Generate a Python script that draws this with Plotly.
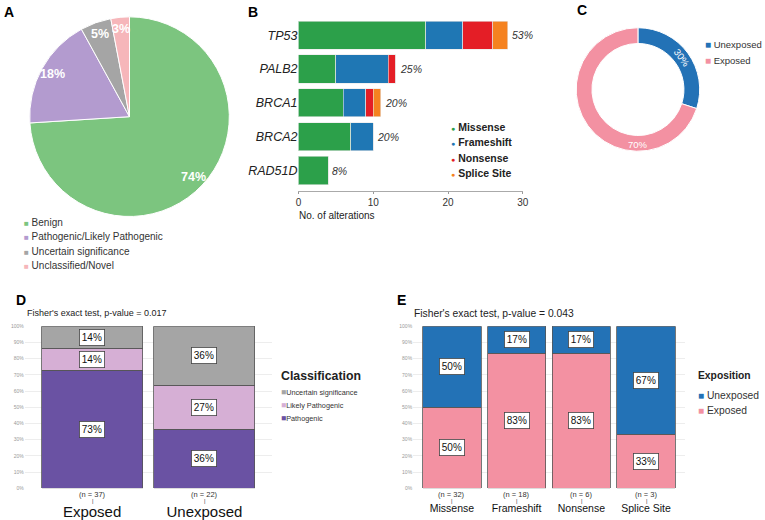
import math
import plotly.graph_objects as go

W, H = 765, 520
FONT = "Liberation Sans, Arial, sans-serif"

# ---------------- data ----------------
# Panel A
a_labels = ["Benign", "Pathogenic/Likely Pathogenic", "Uncertain significance", "Unclassified/Novel"]
a_values = [74, 18, 5, 3]
a_colors = ["#7cc57f", "#b39bcf", "#a5a5a5", "#f6b6ba"]

# Panel B
b_genes = ["TP53", "PALB2", "BRCA1", "BRCA2", "RAD51D"]
b_types = ["Missense", "Frameshift", "Nonsense", "Splice Site"]
b_missense = [17, 5, 6, 7, 4]
b_frameshift = [5, 7, 3, 3, 0]
b_nonsense = [4, 1, 1, 0, 0]
b_splice = [2, 0, 1, 0, 0]
b_pct = ["53%", "25%", "20%", "20%", "8%"]
b_colors = ["#2ca04a", "#1f77b4", "#e41e26", "#f58220"]

# Panel C
c_labels = ["Unexposed", "Exposed"]
c_values = [30, 70]
c_colors = ["#2372b6", "#f391a2"]

# Panel D
d_groups = ["Exposed", "Unexposed"]
d_n = [37, 22]
d_classes = ["Pathogenic", "Likely Pathogenic", "Uncertain significance"]
d_pathogenic = [27, 8]
d_likely = [5, 6]
d_uncertain = [5, 8]
d_colors = ["#6a52a3", "#d6afd5", "#a5a5a5"]

# Panel E
e_types = ["Missense", "Frameshift", "Nonsense", "Splice Site"]
e_n = [32, 18, 6, 3]
e_exposed = [16, 15, 5, 1]
e_unexposed = [16, 3, 1, 2]
e_colors = ["#f391a2", "#2372b6"]  # Exposed, Unexposed


def px(x):
    return x / W


def py(y):
    return 1 - y / H


fig = go.Figure()
ann = []


def add_ann(**kw):
    kw.setdefault("showarrow", False)
    kw.setdefault("xanchor", "center")
    kw.setdefault("yanchor", "middle")
    kw.setdefault("xref", "paper")
    kw.setdefault("yref", "paper")
    ann.append(kw)


# ---------------- Panel A: pie ----------------
A_CX, A_CY, A_R = 128, 115, 101
fig.add_trace(go.Pie(
    labels=a_labels, values=a_values, sort=False, direction="clockwise", rotation=0,
    marker=dict(colors=a_colors, line=dict(color="white", width=1)),
    textinfo="none", showlegend=False,
    domain=dict(x=[px(A_CX - A_R), px(A_CX + A_R)], y=[py(A_CY + A_R), py(A_CY - A_R)]),
))
tot = sum(a_values)
cum = 0
for v in a_values:
    mid = (cum + v / 2) / tot
    cum += v
    th = 2 * math.pi * mid
    r = 0.88 * A_R
    x = A_CX + r * math.sin(th)
    y = A_CY - r * math.cos(th)
    add_ann(x=px(x), y=py(y), text="<b>%d%%</b>" % round(100 * v / tot),
            font=dict(size=12.5, color="white", family=FONT))
for i, (lab, col) in enumerate(zip(a_labels, a_colors)):
    yy = 222 + i * 14.6
    add_ann(x=px(19), y=py(yy), xanchor="left",
            text="<span style='color:%s;font-size:8px'>■</span> %s" % (col, lab),
            font=dict(size=10, color="#333333", family=FONT))

# ---------------- Panel B: stacked horizontal bars ----------------
for name, vals, col in zip(b_types, [b_missense, b_frameshift, b_nonsense, b_splice], b_colors):
    fig.add_trace(go.Bar(
        y=b_genes, x=vals, name=name, orientation="h", width=0.83,
        marker=dict(color=col, line=dict(color="#e8e8e8", width=0.6)),
        xaxis="x", yaxis="y", showlegend=False,
    ))
b_tot = [a + b + c + d for a, b, c, d in zip(b_missense, b_frameshift, b_nonsense, b_splice)]
for g, t, p in zip(b_genes, b_tot, b_pct):
    add_ann(x=t, y=g, xref="x", yref="y", xanchor="left", xshift=2,
            text="<i>%s</i>" % p, font=dict(size=10.5, color="#333333", family=FONT))
add_ann(x=px(298), y=py(214.5), xanchor="left", text="No. of alterations",
        font=dict(size=10, color="#222222", family=FONT))
for i, (name, col) in enumerate(zip(b_types, b_colors)):
    yy = 125 + i * 15.8
    add_ann(x=px(451), y=py(yy), xanchor="left",
            text="<span style='color:%s;font-size:7px'>●</span> <b>%s</b>" % (col, name),
            font=dict(size=10.5, color="#222222", family=FONT))

# ---------------- Panel C: donut ----------------
C_CX, C_CY, C_R = 642.5, 87.5, 62.5
C_HOLE = 0.745
fig.add_trace(go.Pie(
    labels=c_labels, values=c_values, sort=False, direction="clockwise", rotation=0, hole=C_HOLE,
    marker=dict(colors=c_colors, line=dict(color="white", width=1)),
    textinfo="none", showlegend=False,
    domain=dict(x=[px(C_CX - C_R), px(C_CX + C_R)], y=[py(C_CY + C_R), py(C_CY - C_R)]),
))
c_tot = sum(c_values)
rm = C_R * (1 + C_HOLE) / 2
th0 = 360 * (c_values[0] / 2) / c_tot
add_ann(x=px(C_CX + rm * math.sin(math.radians(th0))), y=py(C_CY - rm * math.cos(math.radians(th0))),
        textangle=th0, text="%d%%" % c_values[0], font=dict(size=9.5, color="white", family=FONT))
add_ann(x=px(C_CX), y=py(C_CY + rm + 1), text="%d%%" % c_values[1],
        font=dict(size=9.5, color="white", family=FONT))
for i, (lab, col) in enumerate(zip(c_labels, c_colors)):
    yy = 42 + i * 16
    add_ann(x=px(708), y=py(yy), xanchor="left",
            text="<span style='color:%s;font-size:10px'>■</span> %s" % (col, lab),
            font=dict(size=9.5, color="#333333", family=FONT))

# ---------------- Panel D: 100% stacked bars ----------------
d_series = [d_pathogenic, d_likely, d_uncertain]
for name, vals, col in zip(d_classes, d_series, d_colors):
    fig.add_trace(go.Bar(
        x=d_groups, y=[v / n for v, n in zip(vals, d_n)], name=name, width=0.9,
        marker=dict(color=col, line=dict(color="#555555", width=0.8)),
        xaxis="x2", yaxis="y2", showlegend=False,
    ))
for gi, g in enumerate(d_groups):
    base = 0
    for vals in d_series:
        f = vals[gi] / d_n[gi]
        add_ann(x=g, y=base + f / 2, xref="x2", yref="y2",
                text="%d%%" % int(100 * f + 0.5), bgcolor="white", bordercolor="#444444",
                borderwidth=0.8, borderpad=2, font=dict(size=10, color="#111111", family=FONT))
        base += f
    add_ann(x=g, y=py(497), xref="x2", text="(n = %d)" % d_n[gi],
            font=dict(size=7.5, color="#333333", family=FONT))
    add_ann(x=g, y=py(503.5), xref="x2", text="|", font=dict(size=5.5, color="#333333", family=FONT))
add_ann(x=px(22), y=py(314), xanchor="left", text="Fisher's exact test, p-value = 0.017",
        font=dict(size=9, color="#222222", family=FONT))
add_ann(x=px(279), y=py(377), xanchor="left", text="<b>Classification</b>",
        font=dict(size=12.3, color="#222222", family=FONT))
for i, (lab, col) in enumerate(zip(d_classes[::-1], d_colors[::-1])):
    yy = 394 + i * 13
    add_ann(x=px(279), y=py(yy), xanchor="left",
            text="<span style='color:%s;font-size:8.5px'>■</span>%s" % (col, lab),
            font=dict(size=7.3, color="#333333", family=FONT))

# ---------------- Panel E: 100% stacked bars ----------------
e_series = [e_exposed, e_unexposed]
for name, vals, col in zip(["Exposed", "Unexposed"], e_series, e_colors):
    fig.add_trace(go.Bar(
        x=e_types, y=[v / n for v, n in zip(vals, e_n)], name=name, width=0.9,
        marker=dict(color=col, line=dict(color="#555555", width=0.8)),
        xaxis="x3", yaxis="y3", showlegend=False,
    ))
for ti, t in enumerate(e_types):
    base = 0
    for vals in e_series:
        f = vals[ti] / e_n[ti]
        add_ann(x=t, y=base + f / 2, xref="x3", yref="y3",
                text="%d%%" % int(100 * f + 0.5), bgcolor="white", bordercolor="#444444",
                borderwidth=0.8, borderpad=2, font=dict(size=10, color="#111111", family=FONT))
        base += f
    add_ann(x=t, y=py(497), xref="x3", text="(n = %d)" % e_n[ti],
            font=dict(size=7.5, color="#333333", family=FONT))
    add_ann(x=t, y=py(503.5), xref="x3", text="|", font=dict(size=5.5, color="#333333", family=FONT))
add_ann(x=px(414), y=py(314), xanchor="left", text="Fisher's exact test, p-value = 0.043",
        font=dict(size=10.3, color="#222222", family=FONT))
add_ann(x=px(701), y=py(377), xanchor="left", text="<b>Exposition</b>",
        font=dict(size=10.3, color="#222222", family=FONT))
for i, (lab, col) in enumerate(zip(["Unexposed", "Exposed"], e_colors[::-1])):
    yy = 397 + i * 15
    add_ann(x=px(701), y=py(yy), xanchor="left",
            text="<span style='color:%s;font-size:10px'>■</span> %s" % (col, lab),
            font=dict(size=10.3, color="#333333", family=FONT))

# ---------------- panel letters ----------------
for letter, x, y in [("A", 6, 9), ("B", 253, 9), ("C", 586, 7), ("D", 18, 300), ("E", 403, 300)]:
    add_ann(x=px(x), y=py(y), text="<b>%s</b>" % letter, font=dict(size=14, color="black", family=FONT))

pct_ticks = [i / 10 for i in range(11)]
pct_text = ["%d%%" % (i * 10) for i in range(11)]
yaxis_pct = dict(range=[0, 1], tickvals=pct_ticks, ticktext=pct_text, showgrid=True,
                 gridcolor="#ededed", gridwidth=0.6, zeroline=False, showline=False, ticks="",
                 tickfont=dict(size=5, color="#999999", family=FONT))

fig.update_layout(
    width=W, height=H, margin=dict(l=0, r=0, t=0, b=0),
    paper_bgcolor="white", plot_bgcolor="white", barmode="stack",
    font=dict(family=FONT),
    xaxis=dict(domain=[px(299), px(526)], anchor="y", range=[0, 30], tickvals=[0, 10, 20, 30],
               ticks="outside", ticklen=2, tickcolor="#999999", showline=True, linecolor="#aaaaaa",
               showgrid=False, zeroline=False, tickfont=dict(size=10, color="#333333", family=FONT)),
    yaxis=dict(domain=[py(190), py(12)], anchor="x", type="category", categoryorder="array",
               categoryarray=b_genes, range=[4.6, -0.6], showgrid=False, showline=False, ticks="",
               tickfont=dict(size=12.5, color="#222222", family=FONT, style="italic")),
    xaxis2=dict(domain=[px(22), px(272)], anchor="y2", type="category", categoryorder="array",
                categoryarray=d_groups, range=[-0.6, 1.6], showgrid=False, showline=False, ticks="",
                ticklabelstandoff=13, tickfont=dict(size=15, color="#111111", family=FONT)),
    yaxis2=dict(domain=[py(491), py(327)], anchor="x2", **yaxis_pct),
    xaxis3=dict(domain=[px(415), px(690)], anchor="y3", type="category", categoryorder="array",
                categoryarray=e_types, range=[-0.6, 3.6], showgrid=False, showline=False, ticks="",
                ticklabelstandoff=12, tickfont=dict(size=10.5, color="#111111", family=FONT)),
    yaxis3=dict(domain=[py(491), py(327)], anchor="x3", **yaxis_pct),
    annotations=ann,
)

fig.write_html("out.html", config={"displayModeBar": False},
               post_script="document.body.style.margin='0px';document.body.style.overflow='hidden';")
